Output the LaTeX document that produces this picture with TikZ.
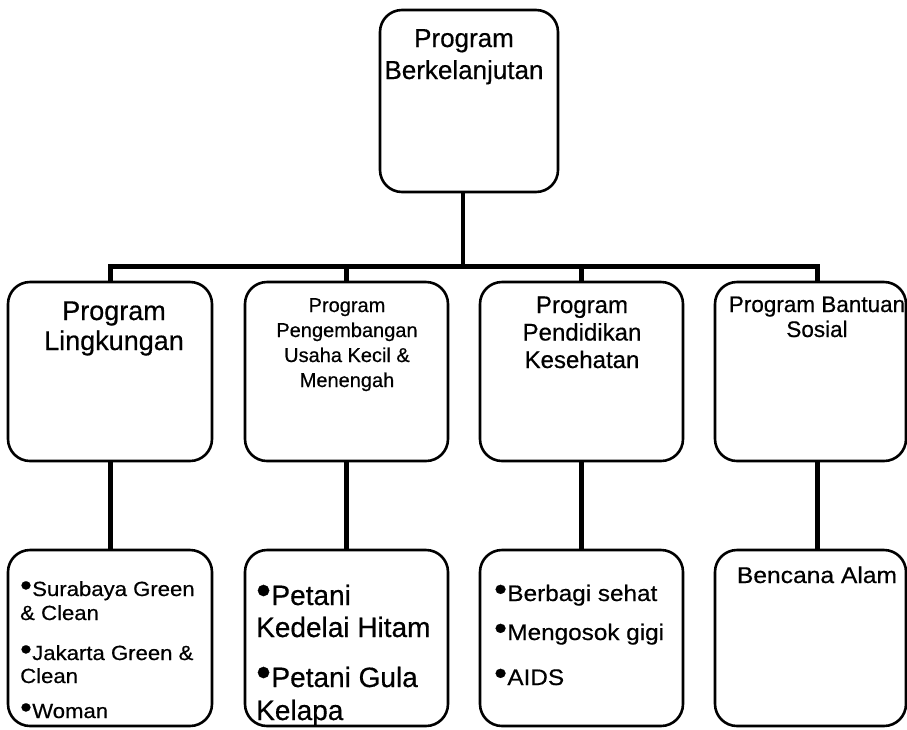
\documentclass[tikz,border=0pt]{standalone}
\usepackage{fontspec}
\usepackage{graphicx}
\setmainfont[FakeBold=0.5]{Liberation Sans}
\newfontfamily\widefont[FakeStretch=1.08,FakeBold=0.5]{Liberation Sans}
% raised round bullet placed before each list item
\newcommand\bul{\raisebox{0.02em}{\scalebox{1.5}{•}}\hspace{0.02em}}
\newcommand\fs[2]{\fontsize{#1}{#2}\selectfont}

\begin{document}
\begin{tikzpicture}[x=1pt,y=-1pt,
  box/.style={draw=black, line width=2.6pt, rounded corners=22pt, inner sep=0pt,
              rectangle, fill=none},
  wire/.style={draw=black, line width=5pt},
  bus/.style={draw=black, line width=5pt, line join=miter},
  label/.style={inner sep=0pt, text=black},
  ctext/.style={label, align=center, anchor=base},
  ltext/.style={label, align=left, anchor=base west}]
\useasboundingbox (0,0) rectangle (907,729);
\fill[white] (0,0) rectangle (907,729);

% boxes
\node[box, minimum width=178pt, minimum height=182pt] (top) at (469,101) {};
\node[box, minimum width=204pt, minimum height=179pt] (m1) at (110,371.5) {};
\node[box, minimum width=203pt, minimum height=179pt] (m2) at (346.5,371.5) {};
\node[box, minimum width=203pt, minimum height=179pt] (m3) at (581.5,371.5) {};
\node[box, minimum width=191pt, minimum height=179pt] (m4) at (810.5,371.5) {};
\node[box, minimum width=204pt, minimum height=176pt] (b1) at (110,638) {};
\node[box, minimum width=203pt, minimum height=176pt] (b2) at (346.5,638) {};
\node[box, minimum width=203pt, minimum height=176pt] (b3) at (581.5,638) {};
\node[box, minimum width=191pt, minimum height=176pt] (b4) at (810.5,638) {};

% connectors
\coordinate (hub) at (463,266);
\coordinate (m4top) at ([xshift=6.5pt]m4.north);
\coordinate (m4bot) at ([xshift=6.5pt]m4.south);
\coordinate (b4top) at ([xshift=6.5pt]b4.north);
\draw[wire, line width=4pt] (top.south -| hub) -- (hub);
\draw[bus] (m1.north) -- (m1.north |- hub) -- (m4top |- hub) -- (m4top);
\draw[wire] (m2.north) -- (m2.north |- hub);
\draw[wire] (m3.north) -- (m3.north |- hub);
\draw[wire] (m1.south) -- (b1.north);
\draw[wire] (m2.south) -- (b2.north);
\draw[wire] (m3.south) -- (b3.north);
\draw[wire] (m4bot) -- (b4top);

% texts of the upper boxes (anchored at the baseline of the last line)
\node[ctext, font=\fs{26}{32}] (ttop) at (464,79) {Program\\Berkelanjutan};
\node[ctext, font=\fs{27}{30}] (tm1) at (114,350) {Program\\Lingkungan};
\node[ctext, font=\fs{20}{25}] (tm2) at (347,387) {Program\\Pengembangan\\Usaha Kecil \&\\Menengah};
\node[ctext, font=\fs{24}{27.5}] (tm3) at (582,368) {Program\\Pendidikan\\Kesehatan};
\node[ctext, font=\fs{22.5}{25}] (tm4) at (817,337) {Program Bantuan\\Sosial};

% lists of the lower boxes
\node[ltext, font=\widefont\fs{20.5}{24}] (tb1a) at (20,620) {\bul Surabaya Green\\\& Clean};
\node[ltext, font=\widefont\fs{20.5}{23}] (tb1b) at (20,683) {\bul Jakarta Green \&\\Clean};
\node[ltext, font=\widefont\fs{20.5}{23}] (tb1c) at (20,718) {\bul Woman};
\node[ltext, font=\fs{28}{32}] (tb2a) at (256,637) {\bul Petani\\Kedelai Hitam};
\node[ltext, font=\fs{28}{33}] (tb2b) at (256,720) {\bul Petani Gula\\Kelapa};
\node[ltext, font=\widefont\fs{22.5}{26}] (tb3a) at (494,601) {\bul Berbagi sehat};
\node[ltext, font=\widefont\fs{22.5}{26}] (tb3b) at (494,640) {\bul Mengosok gigi};
\node[ltext, font=\widefont\fs{22.5}{26}] (tb3c) at (494,685) {\bul AIDS};
\node[ctext, font=\widefont\fs{22.8}{26}] (tb4) at (817,583) {Bencana Alam};
\end{tikzpicture}
\end{document}
